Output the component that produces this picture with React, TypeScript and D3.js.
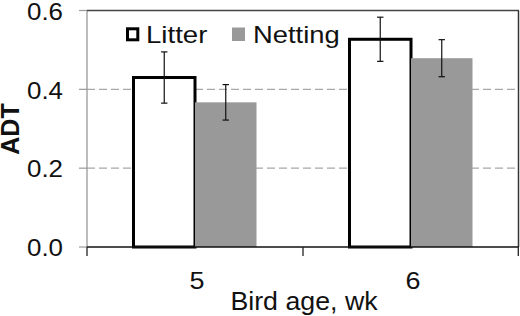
import React from "react";
import * as d3 from "d3";

const categories = ["5", "6"];
const seriesNames = ["Litter", "Netting"];
const litterValues = [0.43, 0.527];
const litterErrors = [0.065, 0.056];
const nettingValues = [0.367, 0.479];
const nettingErrors = [0.045, 0.047];
const yTicks = [0, 0.2, 0.4, 0.6];
const gridTicks = [0.2, 0.4];

const W = 520;
const H = 316;
const left = 87;
const right = 519;
const top = 10.5;
const bottom = 247;
const FONT = "Liberation Sans, Arial, Helvetica, sans-serif";
const GRAY = "#999999";

export default function App() {
  const x = d3.scaleBand<string>().domain(categories).range([left, right]).paddingInner(0).paddingOuter(0);
  const xs = d3.scaleBand<string>().domain(seriesNames).range([0, x.bandwidth()]).paddingInner(0).paddingOuter(0.756);
  const y = d3.scaleLinear().domain([0, 0.6]).range([bottom, top]);
  const bw = xs.bandwidth();

  const series = [
    { name: "Litter", values: litterValues, errors: litterErrors },
    { name: "Netting", values: nettingValues, errors: nettingErrors },
  ];

  const txt = (
    s: string,
    tx: number,
    ty: number,
    anchor: string,
    size: number,
    k: number,
    extra: any = {}
  ) => (
    <text
      transform={`translate(${tx},${ty}) scale(${k},1)${extra.rotate ? " rotate(-90)" : ""}`}
      textAnchor={anchor}
      fontSize={size}
      fontFamily={FONT}
      fontWeight={extra.bold ? "bold" : "normal"}
      fill="#111"
    >
      {s}
    </text>
  );

  return (
    <svg width={W} height={H} style={{ position: "absolute", left: 0, top: 0, background: "#fff" }}>
      <rect x={0} y={0} width={W} height={H} fill="#fff" />
      {/* gridlines */}
      {gridTicks.map((t) => (
        <line key={t} x1={left} x2={right} y1={y(t)} y2={y(t)} stroke="#a8a8a8" strokeWidth={1.2} strokeDasharray="8,4" />
      ))}
      {/* y tick marks */}
      {yTicks.map((t) => (
        <line key={"tm" + t} x1={79} x2={left} y1={y(t)} y2={y(t)} stroke="#999" strokeWidth={1.2} />
      ))}
      {/* frame */}
      <line x1={left} x2={left} y1={top} y2={bottom} stroke="#999" strokeWidth={1.3} />
      <line x1={left} x2={right} y1={top} y2={top} stroke="#444" strokeWidth={1.3} />
      <line x1={right - 0.5} x2={right - 0.5} y1={top} y2={bottom} stroke="#333" strokeWidth={1.5} />
      {/* bars */}
      {series.map((s) =>
        categories.map((c, i) => {
          const bx = (x(c) as number) + (xs(s.name) as number);
          const by = y(s.values[i]);
          return s.name === "Litter" ? (
            <rect key={s.name + c} x={bx} y={by} width={bw} height={bottom - by} fill="#fff" stroke="#000" strokeWidth={3} />
          ) : (
            <rect key={s.name + c} x={bx} y={by} width={bw} height={bottom - by} fill={GRAY} />
          );
        })
      )}
      {/* error bars */}
      {series.map((s) =>
        categories.map((c, i) => {
          const cx = (x(c) as number) + (xs(s.name) as number) + bw / 2;
          const y1 = y(s.values[i] + s.errors[i]);
          const y2 = y(s.values[i] - s.errors[i]);
          return (
            <g key={"e" + s.name + c} stroke="#111" strokeWidth={1.2}>
              <line x1={cx} x2={cx} y1={y1} y2={y2} />
              <line x1={cx - 3.2} x2={cx + 3.2} y1={y1} y2={y1} />
              <line x1={cx - 3.2} x2={cx + 3.2} y1={y2} y2={y2} />
            </g>
          );
        })
      )}
      {/* x axis */}
      <line x1={left} x2={right} y1={bottom} y2={bottom} stroke="#111" strokeWidth={1.5} />
      {[left, ...categories.map((c) => (x(c) as number) + x.bandwidth())].map((px, i) => {
        const xx = px === right ? px - 0.7 : px;
        return <line key={"xt" + i} x1={xx} x2={xx} y1={bottom} y2={bottom + 9} stroke="#222" strokeWidth={1.3} />;
      })}
      {/* y tick labels */}
      {yTicks.map((t) => (
        <g key={"yl" + t}>{txt(d3.format(".1f")(t), 63, y(t) + 9.3, "end", 24, 1.08)}</g>
      ))}
      {/* x labels */}
      {categories.map((c) => (
        <g key={"xl" + c}>{txt(c, (x(c) as number) + x.bandwidth() / 2 + 2, 288.5, "middle", 24.5, 1.1)}</g>
      ))}
      {txt("Bird age, wk", 304, 310, "middle", 25, 1.07)}
      {txt("ADT", 19, 129, "middle", 25, 1, { bold: true, rotate: true })}
      {/* legend */}
      <rect x={127.5} y={28.8} width={10.3} height={11} fill="#fff" stroke="#000" strokeWidth={3} />
      {txt(seriesNames[0], 146, 43, "start", 23, 1.2)}
      <rect x={232} y={27.5} width={13} height={13.5} fill={GRAY} />
      {txt(seriesNames[1], 253, 43, "start", 23, 1.19)}
    </svg>
  );
}
